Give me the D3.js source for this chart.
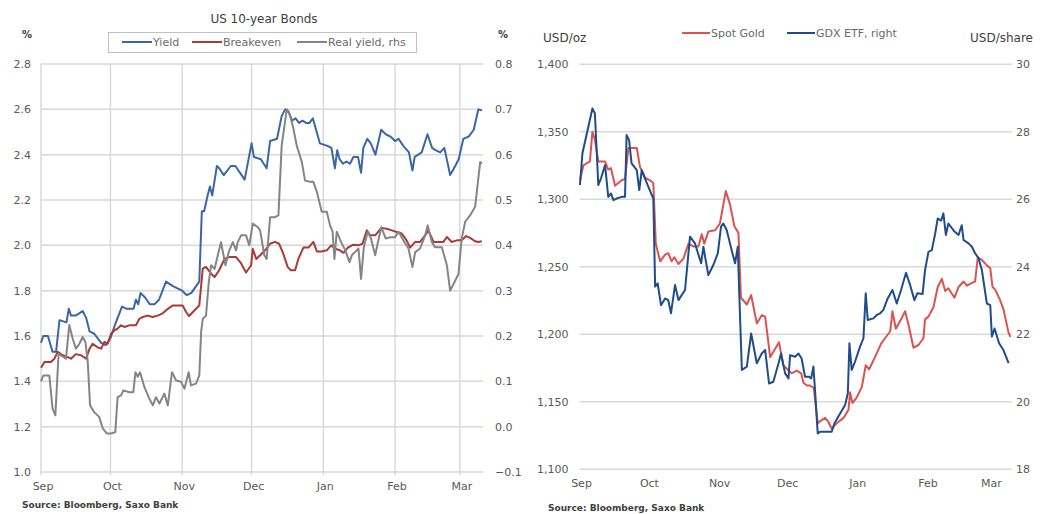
<!DOCTYPE html>
<html>
<head>
<meta charset="utf-8">
<script src="https://cdn.jsdelivr.net/npm/d3@7"></script>
<style>
  body { margin: 0; background: #fff; }
  svg text { font-family: "DejaVu Sans", Verdana, sans-serif; fill: #595959; }
  .tick text { font-size: 11px; }
  .grid { stroke: #d9d9d9; stroke-width: 1.5; }
  .series { fill: none; stroke-width: 2; stroke-linejoin: round; }
  .source { font-size: 9px; font-weight: bold; fill: #404040; }
  .unit { font-size: 12px; fill: #404040; }
  .legend { font-size: 11px; fill: #6a6a6a; }
</style>
</head>
<body>
<svg id="chart" width="1040" height="514"></svg>
<script>
/* Time frame of both panels */
const startDate = new Date(2016, 8, 1);
const endDate = new Date(2017, 2, 11);

/* Ticks */
const bondTicks = [1.0, 1.2, 1.4, 1.6, 1.8, 2.0, 2.2, 2.4, 2.6, 2.8];
const realTicks = [-0.1, 0.0, 0.1, 0.2, 0.3, 0.4, 0.5, 0.6, 0.7, 0.8];
const goldTicks = [1100, 1150, 1200, 1250, 1300, 1350, 1400];
const gdxTicks = [18, 20, 22, 24, 26, 28, 30];

/* Series: [days since 1 Sep 2016, value] */
const yieldPts = [[0,1.57],[1,1.60],[3,1.60],[5,1.53],[6.5,1.53],[8,1.67],[11,1.66],[12,1.72],[13,1.69],[15,1.69],[18,1.71],[19.5,1.68],[21,1.62],[23,1.61],[26,1.57],[28,1.56],[30,1.59],[32,1.65],[35,1.73],[37,1.72],[40,1.72],[41,1.76],[42,1.74],[43,1.79],[45,1.77],[47,1.74],[49,1.74],[51,1.76],[54,1.84],[57,1.82],[61,1.80],[63,1.78],[65,1.79],[68.4,1.84],[69.5,2.15],[70.5,2.15],[72,2.22],[73,2.26],[74,2.22],[76,2.35],[77,2.34],[79,2.31],[82,2.35],[84,2.35],[88,2.29],[91,2.45],[92,2.39],[95,2.38],[97.5,2.34],[99,2.46],[102,2.47],[104,2.57],[105.5,2.60],[107,2.59],[108.5,2.55],[110,2.56],[111.5,2.54],[113,2.55],[114.5,2.54],[116,2.54],[117.5,2.56],[120.5,2.45],[123.5,2.44],[125.5,2.43],[127,2.34],[128,2.42],[129,2.38],[130.5,2.36],[132,2.37],[133.5,2.36],[135,2.39],[137,2.39],[138.3,2.32],[139.3,2.43],[141,2.47],[142.5,2.45],[144.5,2.40],[147,2.51],[149,2.49],[151,2.48],[153,2.46],[154.5,2.47],[156.5,2.44],[159,2.41],[160.5,2.33],[161.5,2.39],[164.5,2.41],[167,2.49],[169,2.43],[170.5,2.42],[172.5,2.41],[174.3,2.43],[176.8,2.31],[179,2.35],[180.5,2.38],[182.5,2.47],[184.8,2.48],[187,2.51],[189,2.60],[190.5,2.595]];

const breakevenPts = [[0,1.46],[1.5,1.485],[4.3,1.485],[5.8,1.50],[7.2,1.53],[9.4,1.515],[11.5,1.507],[13,1.50],[15,1.52],[17.3,1.515],[19.5,1.50],[21,1.544],[22.3,1.566],[24.5,1.55],[26,1.544],[27.4,1.574],[28.8,1.566],[30.3,1.61],[31.7,1.625],[33,1.632],[34.6,1.647],[36,1.64],[38.2,1.647],[41,1.647],[42.5,1.676],[44,1.684],[46,1.69],[48.3,1.684],[50.4,1.69],[52.6,1.70],[54.8,1.72],[57,1.735],[61.2,1.735],[62.7,1.706],[64,1.688],[67,1.72],[68.4,1.735],[69.9,1.897],[71.3,1.905],[73.5,1.875],[75,1.86],[77,1.89],[79.3,1.94],[81.4,1.948],[84.3,1.948],[86.5,1.92],[88.6,1.88],[90.8,1.912],[91.5,1.985],[93,1.94],[94.7,1.956],[96.8,1.978],[99,2.007],[101.1,2.015],[102.9,2.007],[104.7,1.963],[106.6,1.904],[108,1.89],[109.8,1.89],[111.2,1.94],[113.4,1.99],[115.6,1.99],[117.7,2.015],[119.2,1.973],[121.3,1.973],[123.5,1.978],[125.4,2.0],[127.1,1.985],[129.2,1.978],[130.7,1.967],[132.6,1.99],[135,2.003],[137.2,2.0],[138.9,2.007],[140.8,2.066],[142.2,2.044],[144.4,2.044],[147,2.076],[149.4,2.073],[151.6,2.066],[153.7,2.059],[155.9,2.052],[158,2.022],[159.5,1.99],[161.7,2.015],[163.8,2.015],[166,2.044],[167.4,2.066],[169.6,2.015],[171.8,2.015],[173.9,2.015],[175.4,2.037],[177.5,2.015],[179.7,2.022],[181.8,2.022],[183.7,2.041],[185.4,2.033],[187.6,2.018],[189,2.015],[190.5,2.018]];

const realYieldPts = [[0,0.10],[1,0.113],[3.6,0.113],[5,0.04],[6.2,0.025],[7.6,0.161],[8.6,0.157],[10.8,0.15],[12.2,0.224],[13.7,0.194],[15.1,0.172],[16.6,0.183],[18,0.198],[19.2,0.187],[20.2,0.143],[21.2,0.047],[23,0.032],[25.2,0.021],[26.7,-0.004],[28.4,-0.015],[30.3,-0.015],[32.1,-0.012],[33.1,0.065],[34.6,0.069],[35.6,0.08],[38.2,0.076],[39.9,0.076],[40.8,0.12],[41.8,0.11],[42.8,0.12],[44.7,0.087],[46.8,0.062],[48.3,0.047],[49.7,0.065],[51.2,0.051],[53.3,0.073],[54.8,0.047],[56.6,0.12],[58.4,0.102],[60.5,0.099],[62,0.084],[63.8,0.12],[64.8,0.091],[67,0.095],[68.4,0.113],[69.2,0.209],[69.9,0.238],[71.3,0.245],[72.5,0.319],[73.5,0.356],[75,0.348],[76.4,0.378],[77.8,0.407],[79.7,0.356],[81.1,0.385],[82.9,0.407],[84.3,0.389],[85,0.407],[86.5,0.422],[88.6,0.422],[90,0.40],[91.5,0.448],[93.7,0.44],[94.7,0.433],[96.5,0.378],[97.5,0.37],[99,0.462],[101.1,0.462],[102.6,0.466],[104,0.62],[106.2,0.70],[107.6,0.687],[109.1,0.657],[110.5,0.62],[112.7,0.584],[114.1,0.543],[116.3,0.54],[117.7,0.54],[119.2,0.518],[121.3,0.474],[123.5,0.474],[124.9,0.444],[126,0.43],[126.8,0.37],[127.8,0.43],[129.7,0.407],[131.4,0.39],[133.3,0.363],[134.3,0.378],[135.7,0.385],[137.2,0.393],[138.3,0.326],[139.5,0.396],[141.2,0.43],[142.6,0.415],[144.4,0.378],[147,0.44],[149,0.415],[150.9,0.418],[153,0.418],[154.5,0.43],[156.6,0.411],[158.8,0.393],[160.5,0.352],[161.7,0.385],[163.8,0.393],[166,0.422],[167.1,0.444],[168.9,0.407],[170.3,0.396],[173.2,0.396],[175.4,0.356],[176.8,0.30],[178.7,0.319],[180.4,0.337],[181.8,0.415],[183.3,0.452],[185.4,0.466],[187.6,0.485],[188.8,0.54],[189.8,0.584],[190.5,0.58]];

const goldPts = [[0.2,1314],[1.7,1325],[4.6,1328],[5.7,1350],[6.8,1344],[8.3,1328],[11.3,1328],[12.7,1322],[13.9,1323],[15.7,1310],[18.6,1314],[20.1,1315],[21.6,1338],[25.3,1338],[26.7,1324],[28.9,1316],[31.1,1314],[32.6,1312],[33.7,1267],[35.6,1254],[37.8,1259],[39.2,1260],[40.7,1254],[41.9,1257],[43.7,1252],[45.9,1256],[48.1,1267],[50.3,1265],[52.5,1265],[54,1274],[55.1,1267],[56.9,1276],[59.9,1277],[62,1282],[64.6,1306],[66.5,1296],[68.4,1280],[70.2,1275],[71.3,1227],[73.9,1222],[75.8,1229],[78.3,1208],[80.5,1214],[82,1213],[84.2,1183],[88.1,1194],[90,1177],[93.7,1171],[96,1173],[97.9,1171],[98.9,1164],[100.4,1162],[101.8,1162],[103.5,1160],[105.2,1134],[105.8,1135],[108.5,1138],[109.9,1135],[111.4,1130],[112.9,1133],[114.3,1135],[116.6,1138],[118.8,1144],[119.5,1157],[120.5,1149],[122.4,1153],[124.7,1161],[126.4,1177],[127.9,1174],[130.5,1183],[133.2,1193],[134.9,1197],[137.2,1202],[138.2,1217],[139.7,1204],[142,1211],[143.8,1217],[145.3,1207],[147.5,1190],[149.7,1192],[151.9,1197],[152.6,1211],[154.1,1213],[156.3,1220],[158.2,1235],[160,1241],[161.5,1232],[162.9,1234],[165.6,1227],[167.4,1235],[169.6,1239],[171.1,1236],[173.3,1238],[174.7,1239],[175.9,1257],[177.7,1255],[179.9,1251],[181.4,1249],[182.4,1235],[183.6,1233],[185.8,1225],[187.3,1218],[189.5,1201],[190.3,1198]];

const gdxPts = [[0.2,26.42],[1.3,27.36],[5.7,28.69],[6.8,28.54],[8.3,26.42],[9.5,26.62],[11.3,27.01],[12.7,26.07],[13.9,26.17],[15,25.97],[16.4,26.02],[18.6,26.07],[20.1,26.07],[20.8,27.9],[21.9,27.75],[23,27.06],[25.3,26.86],[26.4,26.27],[27.5,26.86],[28.9,26.62],[30.7,26.32],[32.6,26.02],[33.4,23.41],[34.5,23.51],[36,22.86],[37.8,23.06],[39.2,23.01],[40.4,22.62],[42.2,23.46],[43.7,23.01],[46.6,23.31],[48.8,24.89],[51,24.69],[53.7,24.1],[54.7,24.59],[56.9,23.75],[59.1,24.05],[61.1,24.4],[62.5,25.19],[63.5,25.28],[65,25.09],[67.2,24.49],[68.7,24.1],[69.9,24.59],[70.6,23.11],[71.7,20.94],[73.9,21.04],[75.8,22.02],[78.3,21.14],[80.5,21.43],[82,21.53],[83.7,20.54],[85.6,20.59],[87.9,21.14],[89,21.43],[90.8,20.84],[92.3,20.69],[93,21.38],[95.2,21.33],[96.7,21.43],[98.1,21.28],[99.6,20.74],[101.4,20.74],[102.3,20.69],[103.3,21.04],[104,20.35],[105.2,19.06],[106.2,19.11],[111.4,19.11],[112.6,19.36],[115.1,19.65],[117.3,19.9],[118.5,20.25],[119.2,21.73],[120.2,20.94],[121.7,21.19],[123.9,21.63],[125.4,21.88],[126.4,23.21],[127.3,22.42],[129.8,22.47],[131.3,22.57],[132.8,22.62],[134.2,22.72],[136.1,23.06],[138.2,23.31],[140.1,22.91],[142,23.31],[144.2,23.82],[146,23.46],[147.9,23.01],[149.2,23.21],[151.5,23.19],[152.6,23.9],[154.1,24.44],[155.6,24.49],[157.1,24.99],[158.2,25.43],[159.7,25.36],[160.7,25.58],[161.8,24.94],[162.9,25.28],[165.6,25.04],[167.4,24.94],[168.8,25.23],[169.6,24.79],[171.8,24.69],[173.3,24.59],[174.7,24.4],[176.2,24.25],[177.7,23.9],[179.9,22.91],[181.4,22.86],[182.1,21.93],[183.3,22.17],[185.3,21.73],[187.2,21.53],[189.5,21.14]];

/* Colours */
const colYield = "#3b66a6";
const colBreakeven = "#a83b36";
const colReal = "#858585";
const colGold = "#d9534f";
const colGdx = "#1f4c8a";

const svg = d3.select("#chart");
const months = d3.timeMonth.range(startDate, endDate);
const toDate = d => new Date(+startDate + d * 864e5);

/* Axis helper: strip d3 default styling so css decides */
function cleanAxis(g) {
    g.attr("font-family", null).attr("font-size", null);
    g.select(".domain").remove();
}

/* ---------- Left panel: US 10-year bonds ---------- */
const L = { x0: 41, x1: 483, y0: 64, y1: 472 };
const xL = d3.scaleTime().domain([startDate, endDate]).range([L.x0, L.x1]);
const yL = d3.scaleLinear().domain([1.0, 2.8]).range([L.y1, L.y0]);
const yR = d3.scaleLinear().domain([-0.1, 0.8]).range([L.y1, L.y0]);

const left = svg.append("g");

left.selectAll("line.h").data(bondTicks).enter().append("line")
    .attr("class", "grid h")
    .attr("x1", L.x0).attr("x2", L.x1)
    .attr("y1", d => yL(d)).attr("y2", d => yL(d));

left.selectAll("line.v").data(months).enter().append("line")
    .attr("class", "grid v")
    .attr("x1", d => xL(d)).attr("x2", d => xL(d))
    .attr("y1", L.y0).attr("y2", L.y1 + 3);

left.append("g")
    .attr("transform", "translate(" + L.x0 + ",0)")
    .call(d3.axisLeft(yL).tickValues(bondTicks).tickFormat(d3.format(".1f")).tickSize(0).tickPadding(10))
    .call(cleanAxis);

left.append("g")
    .attr("transform", "translate(" + L.x1 + ",0)")
    .call(d3.axisRight(yR).tickValues(realTicks).tickFormat(d3.format(".1f")).tickSize(0).tickPadding(12))
    .call(cleanAxis);

left.append("g")
    .attr("transform", "translate(1.5," + L.y1 + ")")
    .call(d3.axisBottom(xL).tickValues(months).tickFormat(d3.timeFormat("%b")).tickSize(0).tickPadding(10))
    .call(cleanAxis);

const lineL = d3.line().x(d => xL(toDate(d[0]))).y(d => yL(d[1]));
const lineR = d3.line().x(d => xL(toDate(d[0]))).y(d => yR(d[1]));

left.append("path").datum(yieldPts).attr("class", "series").attr("stroke", colYield).attr("d", lineL);
left.append("path").datum(breakevenPts).attr("class", "series").attr("stroke", colBreakeven).attr("d", lineL);
left.append("path").datum(realYieldPts).attr("class", "series").attr("stroke", colReal).attr("d", lineR);

// title, units and legend
left.append("text").attr("x", 264).attr("y", 23).attr("text-anchor", "middle")
    .style("font-size", "12px").style("fill", "#404040").text("US 10-year Bonds");
left.append("text").attr("class", "source").attr("x", 22).attr("y", 38).style("font-size", "10px").text("%");
left.append("text").attr("class", "source").attr("x", 498).attr("y", 38).style("font-size", "10px").text("%");

left.append("rect").attr("x", 108.5).attr("y", 32.5).attr("width", 308).attr("height", 20)
    .attr("fill", "#fff").attr("stroke", "#c0c0c0");

const bondLegend = [
    { name: "Yield", color: colYield, x: 122 },
    { name: "Breakeven", color: colBreakeven, x: 192 },
    { name: "Real yield, rhs", color: colReal, x: 297 }
];
const bl = left.selectAll("g.leg").data(bondLegend).enter().append("g").attr("class", "leg");
bl.append("line").attr("x1", d => d.x).attr("x2", d => d.x + 30).attr("y1", 42).attr("y2", 42)
    .attr("stroke", d => d.color).attr("stroke-width", 2);
bl.append("text").attr("class", "legend").attr("x", d => d.x + 31).attr("y", 46).text(d => d.name);

left.append("text").attr("class", "source").attr("x", 22).attr("y", 508).text("Source: Bloomberg, Saxo Bank");

/* ---------- Right panel: gold vs GDX ---------- */
const R = { x0: 579.5, x1: 1012, y0: 64.2, y1: 469.2 };
const xG = d3.scaleTime().domain([startDate, endDate]).range([R.x0, R.x1]);
const yG = d3.scaleLinear().domain([1100, 1400]).range([R.y1, R.y0]);
const yX = d3.scaleLinear().domain([18, 30]).range([R.y1, R.y0]);

const right = svg.append("g");

right.selectAll("line.h").data(goldTicks).enter().append("line")
    .attr("class", "grid h")
    .attr("x1", R.x0).attr("x2", R.x1)
    .attr("y1", d => yG(d)).attr("y2", d => yG(d));

right.append("g")
    .attr("transform", "translate(" + R.x0 + ",0)")
    .call(d3.axisLeft(yG).tickValues(goldTicks).tickFormat(d3.format(",")).tickSize(0).tickPadding(11))
    .call(cleanAxis);

right.append("g")
    .attr("transform", "translate(" + R.x1 + ",0)")
    .call(d3.axisRight(yX).tickValues(gdxTicks).tickSize(0).tickPadding(4))
    .call(cleanAxis);

right.append("g")
    .attr("transform", "translate(1.5," + R.y1 + ")")
    .call(d3.axisBottom(xG).tickValues(months).tickFormat(d3.timeFormat("%b")).tickSize(0).tickPadding(10))
    .call(cleanAxis);

const lineG = d3.line().x(d => xG(toDate(d[0]))).y(d => yG(d[1]));
const lineX = d3.line().x(d => xG(toDate(d[0]))).y(d => yX(d[1]));

right.append("path").datum(goldPts).attr("class", "series").attr("stroke", colGold).attr("d", lineG);
right.append("path").datum(gdxPts).attr("class", "series").attr("stroke", colGdx).attr("d", lineX);

right.append("text").attr("class", "unit").attr("x", 543).attr("y", 42).text("USD/oz");
right.append("text").attr("class", "unit").attr("x", 1033).attr("y", 42).attr("text-anchor", "end").text("USD/share");

const goldLegend = [
    { name: "Spot Gold", color: colGold, x: 682 },
    { name: "GDX ETF, right", color: colGdx, x: 787 }
];
const gl = right.selectAll("g.leg").data(goldLegend).enter().append("g").attr("class", "leg");
gl.append("line").attr("x1", d => d.x).attr("x2", d => d.x + 28).attr("y1", 33).attr("y2", 33)
    .attr("stroke", d => d.color).attr("stroke-width", 2);
gl.append("text").attr("class", "legend").attr("x", d => d.x + 29).attr("y", 37).text(d => d.name);

right.append("text").attr("class", "source").attr("x", 548).attr("y", 511).text("Source: Bloomberg, Saxo Bank");
</script>
</body>
</html>
